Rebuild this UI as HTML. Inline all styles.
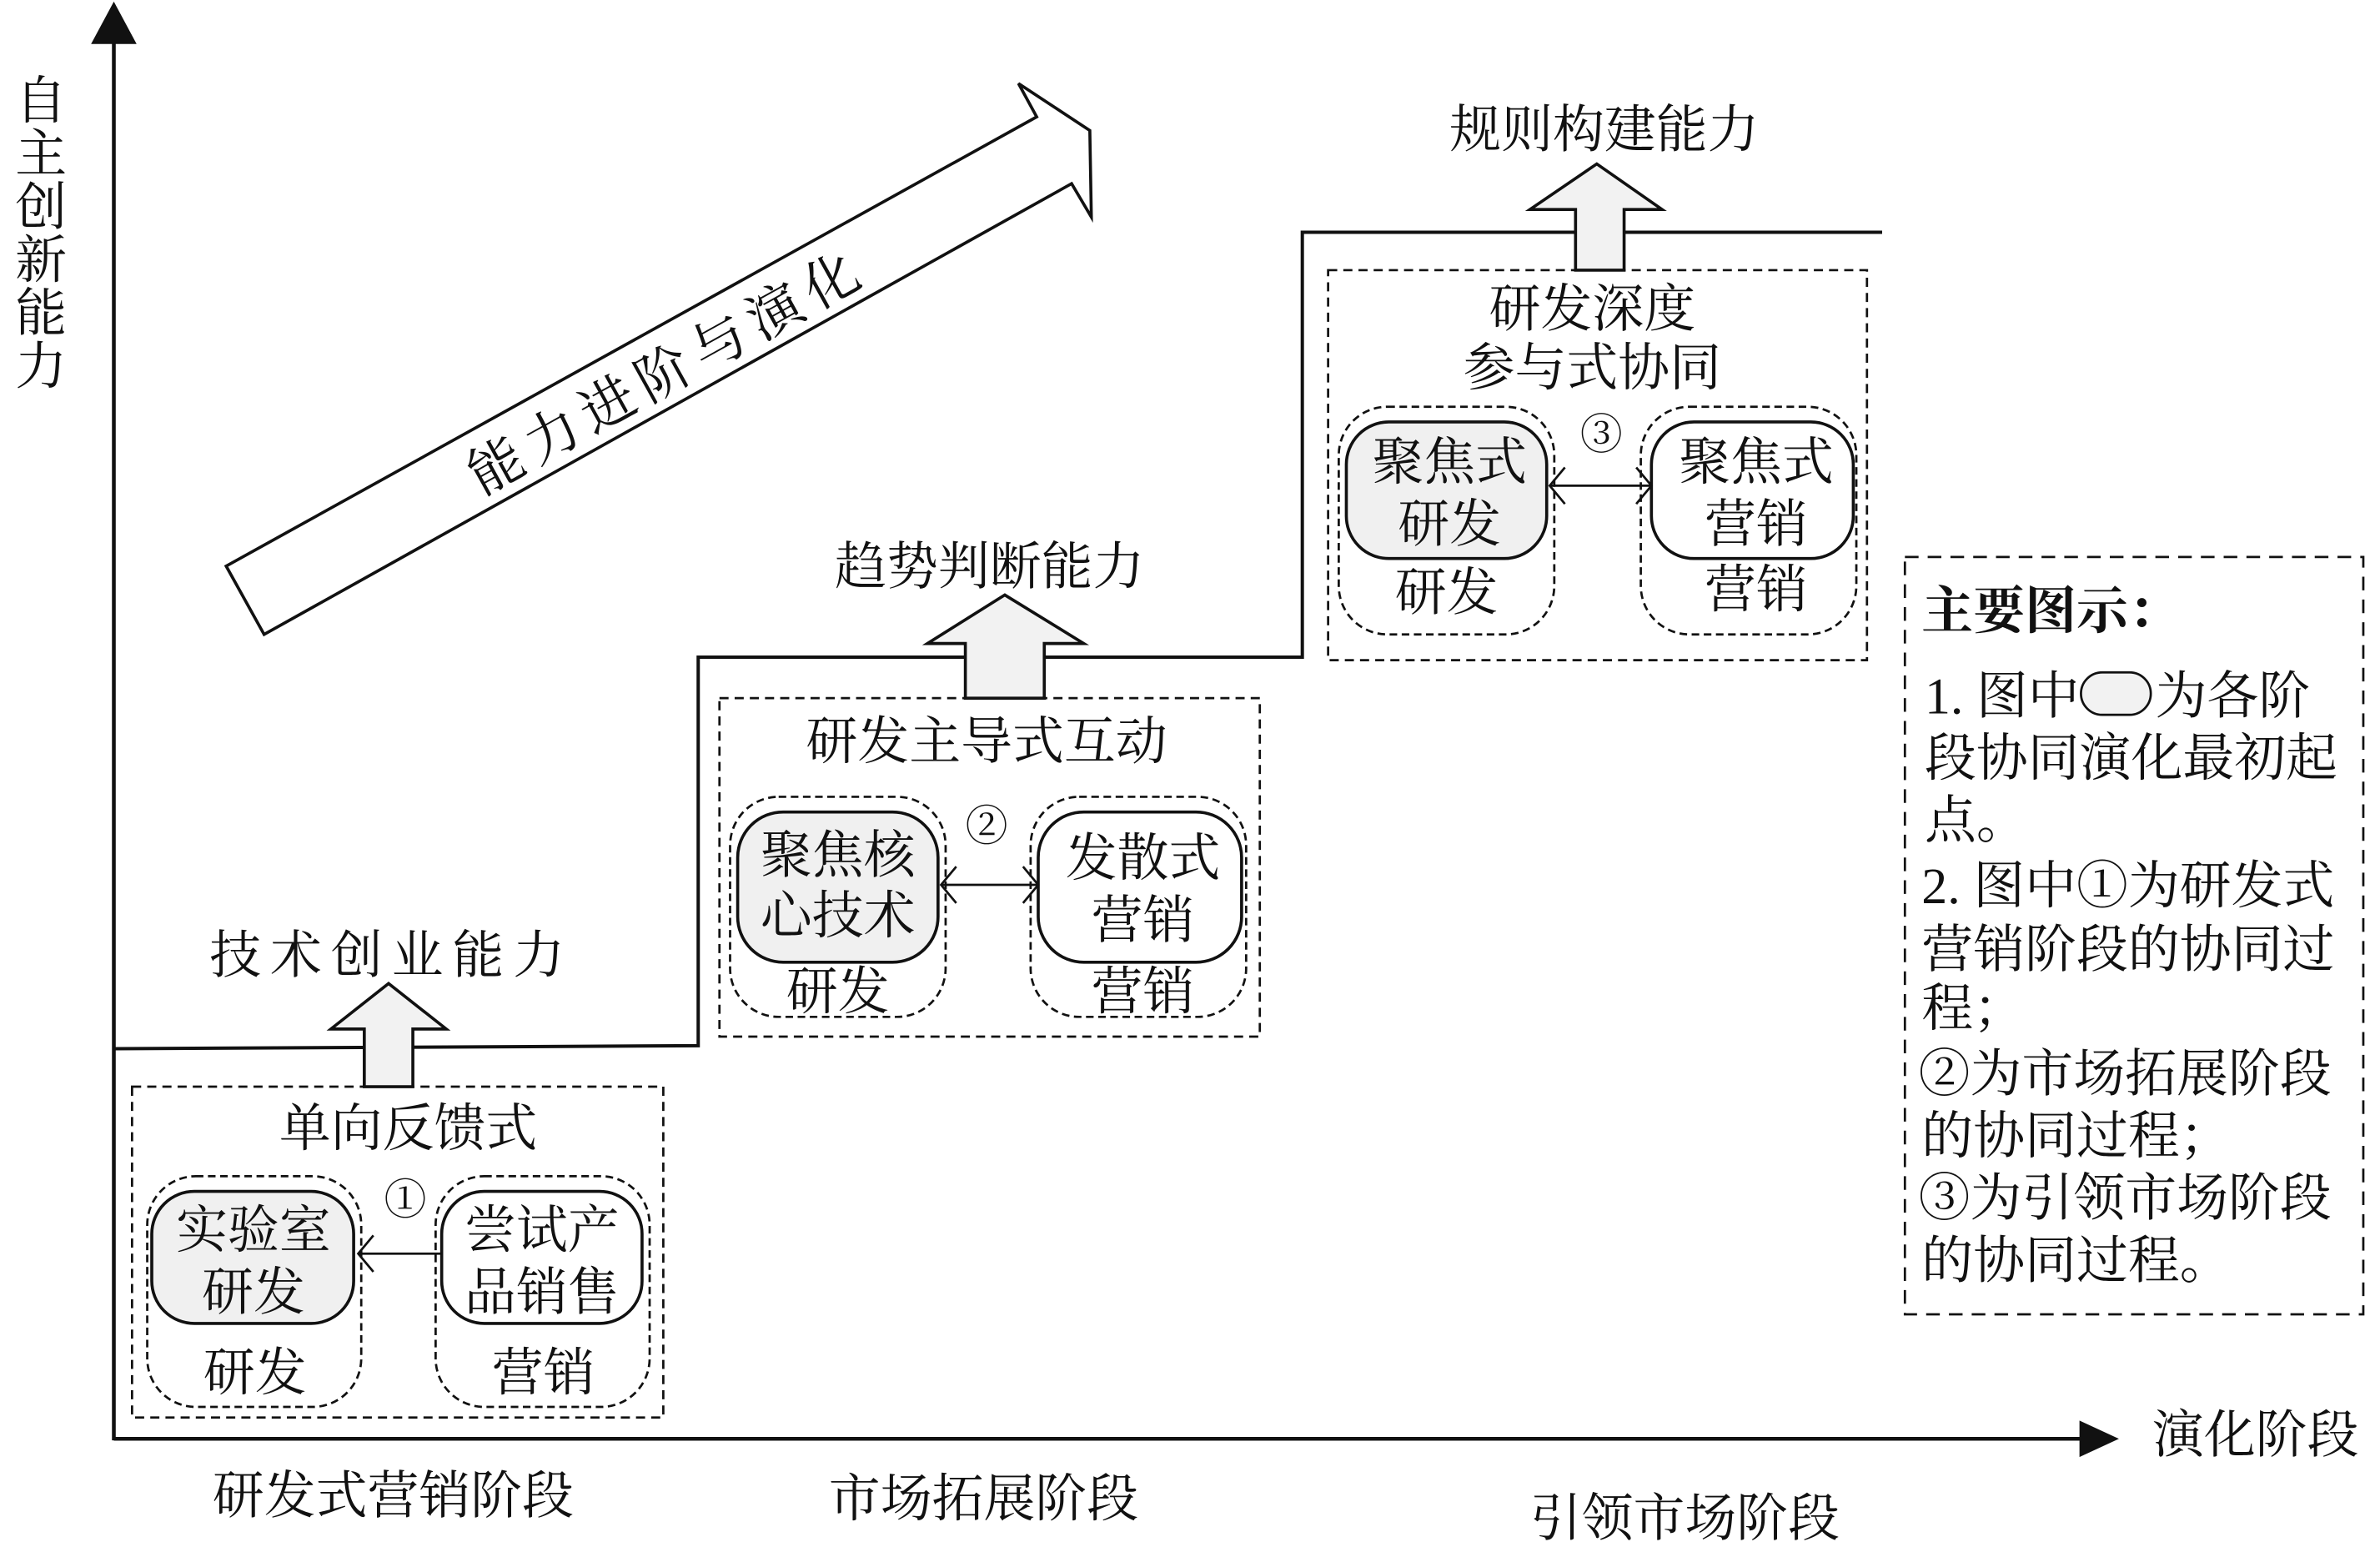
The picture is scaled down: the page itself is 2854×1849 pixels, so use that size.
<!DOCTYPE html>
<html><head><meta charset="utf-8"><style>
html,body{margin:0;padding:0;background:#fff;}
svg{display:block;}
text{font-family:"Liberation Serif","Noto Serif CJK SC",serif;fill:#111;}
</style></head><body>
<svg width="2854" height="1849" viewBox="0 0 1568 1016" preserveAspectRatio="none" xmlns="http://www.w3.org/2000/svg">
<g stroke="#111" fill="none">
<line x1="75" y1="26" x2="75" y2="949" stroke-width="2.5"/>
<polygon points="75,1 60,29 90,29" fill="#111" stroke="none"/>
<line x1="75" y1="948" x2="1372" y2="948" stroke-width="2.5"/>
<polygon points="1396,948 1370,936 1370,960" fill="#111" stroke="none"/>
<polyline points="75,691 460,689 460,433 858,433 858,153 1240,153" stroke-width="2.2"/>
<polygon points="149,373 683,77 671,55 718,86 719,143 706,121 174,418" fill="#fff" stroke-width="2"/>

<rect x="87" y="716" width="350" height="218" stroke-width="1.5" stroke-dasharray="6,4"/>
<rect x="97" y="775" width="141" height="152" rx="32" stroke-width="1.5" stroke-dasharray="5,3"/>
<rect x="287" y="775" width="141" height="152" rx="32" stroke-width="1.5" stroke-dasharray="5,3"/>
<rect x="100" y="785" width="133" height="87" rx="28" fill="#f0f0f0" stroke-width="2"/>
<rect x="291" y="785" width="132" height="87" rx="28" fill="#fff" stroke-width="2"/>
<line x1="236" y1="826" x2="291" y2="826" stroke-width="1.5"/>
<polyline points="246,814 236,826 246,838" stroke-width="1.5"/>
<polygon points="240,716 240,678 218,678 256,648 294,678 272,678 272,716" fill="#f2f2f2" stroke-width="2"/>

<rect x="474" y="460" width="356" height="223" stroke-width="1.5" stroke-dasharray="6,4"/>
<rect x="481" y="525" width="142" height="145" rx="32" stroke-width="1.5" stroke-dasharray="5,3"/>
<rect x="679" y="525" width="142" height="145" rx="32" stroke-width="1.5" stroke-dasharray="5,3"/>
<rect x="486" y="535" width="132" height="99" rx="30" fill="#f0f0f0" stroke-width="2"/>
<rect x="684" y="535" width="134" height="99" rx="30" fill="#fff" stroke-width="2"/>
<line x1="620" y1="583" x2="684" y2="583" stroke-width="1.5"/>
<polyline points="630,571 620,583 630,595" stroke-width="1.5"/>
<polyline points="674,571 684,583 674,595" stroke-width="1.5"/>
<polygon points="636,460 636,424 611,424 662,392 714,424 688,424 688,460" fill="#f2f2f2" stroke-width="2"/>

<rect x="875" y="178" width="355" height="257" stroke-width="1.5" stroke-dasharray="6,4"/>
<rect x="882" y="268" width="142" height="150" rx="32" stroke-width="1.5" stroke-dasharray="5,3"/>
<rect x="1081" y="268" width="142" height="150" rx="32" stroke-width="1.5" stroke-dasharray="5,3"/>
<rect x="887" y="278" width="132" height="90" rx="28" fill="#f0f0f0" stroke-width="2"/>
<rect x="1088" y="278" width="133" height="90" rx="28" fill="#fff" stroke-width="2"/>
<line x1="1021" y1="320" x2="1088" y2="320" stroke-width="1.5"/>
<polyline points="1031,308 1021,320 1031,332" stroke-width="1.5"/>
<polyline points="1078,308 1088,320 1078,332" stroke-width="1.5"/>
<polygon points="1038,178 1038,138 1008,138 1052,108 1095,138 1070,138 1070,178" fill="#f2f2f2" stroke-width="2"/>

<rect x="1255" y="367" width="302" height="499" stroke-width="1.5" stroke-dasharray="9,6"/>
<rect x="1371" y="443" width="46" height="28" rx="14" fill="#f2f2f2" stroke-width="1.5"/>
</g>

<g font-size="34" text-anchor="middle">
<text x="27" y="78">自</text>
<text x="27" y="113">主</text>
<text x="27" y="148">创</text>
<text x="27" y="183">新</text>
<text x="27" y="218">能</text>
<text x="27" y="253">力</text>
</g>
<text x="440" y="257" font-size="36" text-anchor="middle" letter-spacing="6" transform="rotate(-29 440 245)">能力进阶与演化</text>

<g font-size="34" text-anchor="middle">
<text x="1486" y="957">演化阶段</text>
<text x="259" y="997">研发式营销阶段</text>
<text x="648" y="999">市场拓展阶段</text>
<text x="1110" y="1012">引领市场阶段</text>

<text x="258" y="641" letter-spacing="6">技术创业能力</text>
<text x="652" y="385">趋势判断能力</text>
<text x="1057" y="97">规则构建能力</text>

<text x="269" y="755">单向反馈式</text>
<text x="167" y="822">实验室</text>
<text x="167" y="863">研发</text>
<text x="357" y="822">尝试产</text>
<text x="357" y="863">品销售</text>
<text x="168" y="916">研发</text>
<text x="358" y="916">营销</text>
<text x="267" y="800" font-size="28">①</text>

<text x="650" y="500">研发主导式互动</text>
<text x="552" y="575">聚焦核</text>
<text x="552" y="615">心技术</text>
<text x="753" y="577">发散式</text>
<text x="753" y="618">营销</text>
<text x="552" y="665">研发</text>
<text x="753" y="665">营销</text>
<text x="650" y="554" font-size="28">②</text>

<text x="1049" y="215">研发深度</text>
<text x="1049" y="254">参与式协同</text>
<text x="955" y="316">聚焦式</text>
<text x="955" y="357">研发</text>
<text x="1157" y="316">聚焦式</text>
<text x="1157" y="357">营销</text>
<text x="953" y="402">研发</text>
<text x="1157" y="400">营销</text>
<text x="1055" y="296" font-size="28">③</text>
</g>

<g font-size="34">
<text x="1266" y="414" font-weight="bold">主要图示：</text>
<text x="1268" y="470">1. 图中</text>
<text x="1420" y="470">为各阶</text>
<text x="1268" y="511">段协同演化最初起</text>
<text x="1268" y="552">点。</text>
<text x="1266" y="595">2. 图中①为研发式</text>
<text x="1266" y="637">营销阶段的协同过</text>
<text x="1266" y="676">程；</text>
<text x="1264" y="719">②为市场拓展阶段</text>
<text x="1266" y="760">的协同过程；</text>
<text x="1264" y="801">③为引领市场阶段</text>
<text x="1266" y="842">的协同过程。</text>
</g>
</svg>
</body></html>
